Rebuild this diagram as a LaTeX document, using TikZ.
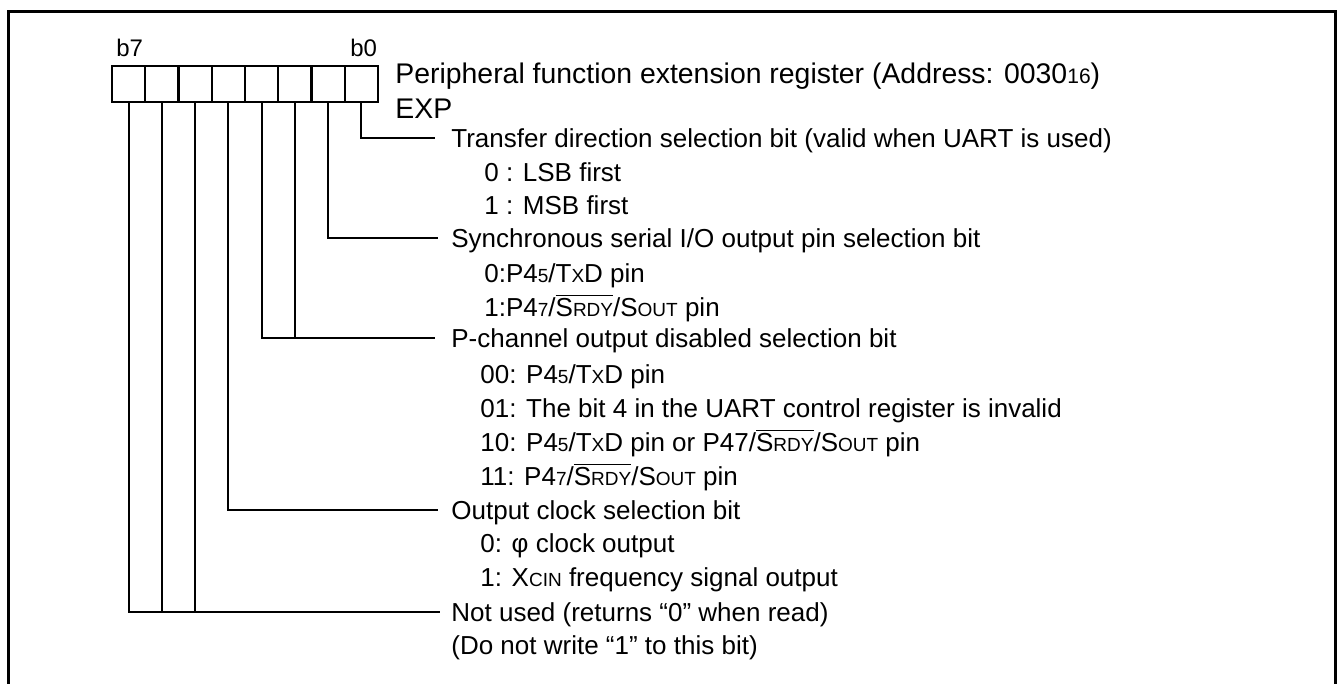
\documentclass[tikz,border=0pt]{standalone}
\usepackage{fontspec}
\setmainfont{Liberation Sans}
\newcommand{\sm}[1]{{\fontsize{9.5pt}{10pt}\selectfont #1}}
\newcommand{\ovl}[1]{$\overline{\hbox{#1}}$}
\tikzset{
  cell/.style={draw, line width=1pt, minimum width=16.625pt, minimum height=18pt, inner sep=0pt},
  conn/.style={line width=1pt},
  frameline/.style={line width=1.3pt},
  body/.style={anchor=base west, inner sep=0pt, font=\fontsize{13pt}{15pt}\selectfont},
  title/.style={anchor=base west, inner sep=0pt, font=\fontsize{14.2pt}{16pt}\selectfont},
  blabel/.style={anchor=base west, inner sep=0pt, font=\fontsize{12pt}{14pt}\selectfont}
}
\begin{document}
\begin{tikzpicture}[x=0.5pt,y=-0.5pt]
\useasboundingbox (0,0) rectangle (1339,684);
% frame (bottom runs off the picture)
\draw[frameline] (8.3,684) -- (8.3,11.5) -- (1335.5,11.5) -- (1335.5,684);
% register cells
\foreach \i/\x in {7/128.6,6/161.9,5/195.1,4/228.4,3/261.6,2/294.9,1/328.1,0/361.4}
  \node[cell] (c\i) at (\x,83.7) {};
\node[blabel] (b7) at (116,56.5) {b7};
\node[blabel] (b0) at (350,56.5) {b0};
\node[title] (ttl) at (395,84) {Peripheral function extension register (Address: 0030{\fontsize{10.5pt}{12pt}\selectfont 16})};
\node[title] (exp) at (395,119) {EXP};
% connector ends
\coordinate (e0) at (435,138);
\coordinate (e1) at (438,238);
\coordinate (e2) at (435,338);
\coordinate (e4) at (438,510);
\coordinate (e5) at (440,612);
% texts
\node[body] (t1) at (451,147.3) {Transfer direction selection bit (valid when UART is used)};
\node[body] (t2) at (484,181.1) {0 : LSB first};
\node[body] (t3) at (484,214.9) {1 : MSB first};
\node[body] (t4) at (451,247.3) {Synchronous serial I/O output pin selection bit};
\node[body] (t5) at (484,282.5) {0:P4\sm{5}/T\sm{X}D pin};
\node[body] (t6) at (484,316.3) {1:P4\sm{7}/\ovl{S\sm{RDY}}/S\sm{OUT} pin};
\node[body] (t7) at (451,347.3) {P-channel output disabled selection bit};
\node[body] (t8) at (480,383.9) {00: P4\sm{5}/T\sm{X}D pin};
\node[body] (t9) at (480,417.7) {01: The bit 4 in the UART control register is invalid};
\node[body] (t10) at (480,451.5) {10: P4\sm{5}/T\sm{X}D pin or P47/\ovl{S\sm{RDY}}/S\sm{OUT} pin};
\node[body] (t11) at (480,485.3) {11: P4\sm{7}/\ovl{S\sm{RDY}}/S\sm{OUT} pin};
\node[body] (t12) at (451,519.3) {Output clock selection bit};
\node[body] (t13) at (480,552.9) {0: φ clock output};
\node[body] (t14) at (480,586.7) {1: X\sm{CIN} frequency signal output};
\node[body] (t15) at (451,621.3) {Not used (returns “0” when read)};
\node[body] (t16) at (451,654.3) {(Do not write “1” to this bit)};
% connectors
\draw[conn] (c0.south) |- (e0);
\draw[conn] (c1.south) |- (e1);
\draw[conn] (c3.south) |- (e2);
\draw[conn] (c2.south) -- (c2.south |- e2);
\draw[conn] (c4.south) |- (e4);
\draw[conn] (c7.south) |- (e5);
\draw[conn] (c6.south) -- (c6.south |- e5);
\draw[conn] (c5.south) -- (c5.south |- e5);
\end{tikzpicture}
\end{document}
